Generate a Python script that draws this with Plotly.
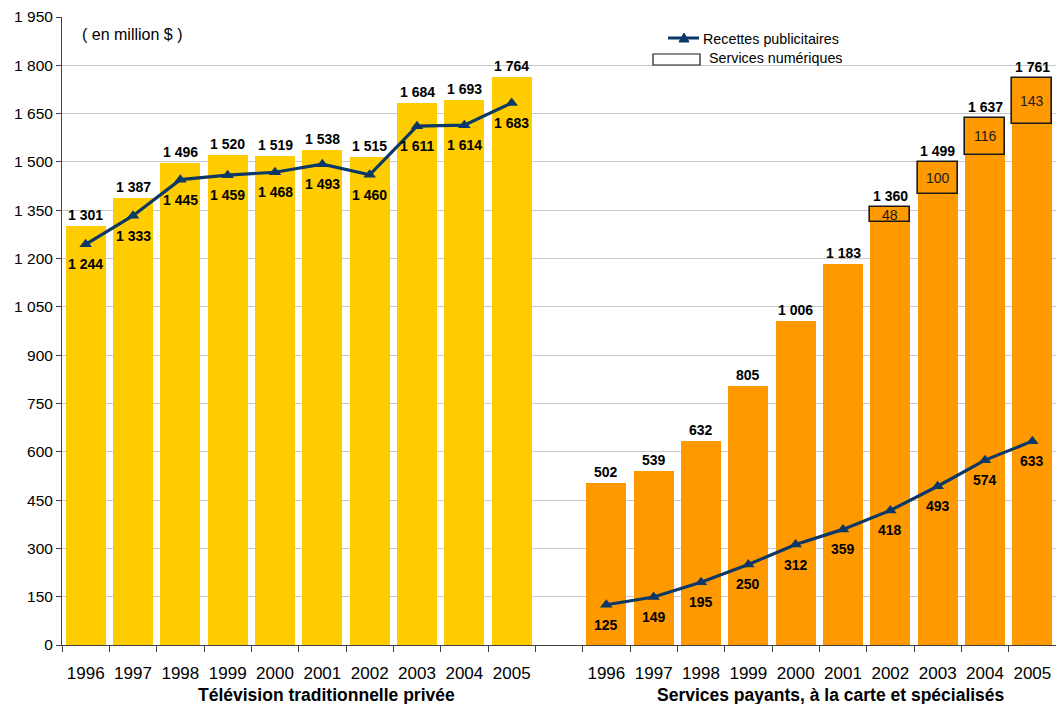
import plotly.graph_objects as go

# --- data -------------------------------------------------------------
years = ["1996", "1997", "1998", "1999", "2000", "2001", "2002", "2003", "2004", "2005"]

# Télévision traditionnelle privée
tv_total = [1301, 1387, 1496, 1520, 1519, 1538, 1515, 1684, 1693, 1764]
tv_ads = [1244, 1333, 1445, 1459, 1468, 1493, 1460, 1611, 1614, 1683]

# Services payants, à la carte et spécialisés
pay_total = [502, 539, 632, 805, 1006, 1183, 1360, 1499, 1637, 1761]
pay_ads = [125, 149, 195, 250, 312, 359, 418, 493, 574, 633]
pay_digital = [0, 0, 0, 0, 0, 0, 48, 100, 116, 143]

group_titles = ["Télévision traditionnelle privée",
                "Services payants, à la carte et spécialisés"]

# --- layout constants ---------------------------------------------------
W, H = 1056, 704
L, R, T, B = 62, 0, 17, 59
FONT = "Liberation Sans, Arial, sans-serif"
YELLOW = "#FFCC00"
ORANGE = "#FF9900"
NAVY = "#0B3866"
GRID = "#C8C8C8"

x_tv = list(range(0, 10))
x_pay = list(range(11, 21))
BAR_W = 0.845


def fmt(v):
    return f"{v:,}".replace(",", " ")


def px(x):
    return (x - L) / (W - L - R)


def py(y):
    return (H - B - y) / (H - B - T)


fig = go.Figure()

fig.add_trace(go.Bar(x=x_tv, y=tv_total, width=BAR_W, marker=dict(color=YELLOW, line_width=0),
                     showlegend=False, hoverinfo="skip"))

pay_base = [t - d for t, d in zip(pay_total, pay_digital)]
fig.add_trace(go.Bar(x=x_pay, y=pay_base, width=BAR_W, marker=dict(color=ORANGE, line_width=0),
                     showlegend=False, hoverinfo="skip"))

dig_idx = [i for i, d in enumerate(pay_digital) if d > 0]
fig.add_trace(go.Bar(x=[x_pay[i] for i in dig_idx], y=[pay_digital[i] for i in dig_idx],
                     base=[pay_base[i] for i in dig_idx], width=BAR_W,
                     marker=dict(color=ORANGE, line=dict(color="#1A1A1A", width=1.6)),
                     showlegend=False, hoverinfo="skip"))

for xs, ys in ((x_tv, tv_ads), (x_pay, pay_ads)):
    fig.add_trace(go.Scatter(x=xs, y=ys, mode="lines+markers",
                             line=dict(color=NAVY, width=3.2),
                             marker=dict(symbol="triangle-up", size=11, color=NAVY),
                             showlegend=False, hoverinfo="skip"))

ann = []
label_font = dict(family=FONT, size=14, color="black")

# totals above the bars
for xs, tots in ((x_tv, tv_total), (x_pay, pay_total)):
    for x, v in zip(xs, tots):
        ann.append(dict(x=x, y=v, xref="x", yref="y", text=f"<b>{fmt(v)}</b>", showarrow=False,
                        yanchor="middle", yshift=11, font=label_font))

# advertising revenue under the line markers
for xs, vals in ((x_tv, tv_ads), (x_pay, pay_ads)):
    for x, v in zip(xs, vals):
        ann.append(dict(x=x, y=v, xref="x", yref="y", text=f"<b>{fmt(v)}</b>", showarrow=False,
                        yanchor="middle", yshift=-20, font=label_font))

# digital services segment values
for i in dig_idx:
    ann.append(dict(x=x_pay[i], y=pay_base[i] + pay_digital[i] / 2, xref="x", yref="y",
                    text=str(pay_digital[i]), showarrow=False, yanchor="middle",
                    font=dict(family=FONT, size=14, color="#1A1A1A")))

# unit note
ann.append(dict(x=px(80), y=py(34), xref="paper", yref="paper", text="( en million $ )",
                showarrow=False, xanchor="left", yanchor="middle",
                font=dict(family=FONT, size=16, color="black")))

# group titles
for cx, title in ((326, group_titles[0]), (831, group_titles[1])):
    ann.append(dict(x=px(cx), y=py(695), xref="paper", yref="paper", text=f"<b>{title}</b>",
                    showarrow=False, xanchor="center", yanchor="middle",
                    font=dict(family=FONT, size=17.5, color="black")))

# legend texts
ann.append(dict(x=px(701), y=py(39), xref="paper", yref="paper", text="Recettes publicitaires",
                showarrow=False, xanchor="left", yanchor="middle",
                font=dict(family=FONT, size=14.3, color="black")))
ann.append(dict(x=px(707), y=py(58), xref="paper", yref="paper", text="Services numériques",
                showarrow=False, xanchor="left", yanchor="middle",
                font=dict(family=FONT, size=14.3, color="black")))

shapes = [
    # legend background over the top gridline
    dict(type="rect", xref="paper", yref="paper", x0=px(607), x1=px(900), y0=py(22), y1=py(12),
         fillcolor="white", line_width=0, layer="above"),
    # legend: line sample
    dict(type="line", xref="paper", yref="paper", x0=px(668), x1=px(699), y0=py(38), y1=py(38),
         line=dict(color=NAVY, width=3), layer="above"),
    dict(type="path", xref="paper", yref="paper",
         path=f"M{px(679)},{py(42)} L{px(689)},{py(42)} L{px(684)},{py(33)} Z",
         fillcolor=NAVY, line=dict(color=NAVY, width=1), layer="above"),
    # legend: box sample
    dict(type="rect", xref="paper", yref="paper", x0=px(653), x1=px(700), y0=py(65), y1=py(54),
         fillcolor="white", line=dict(color="#1A1A1A", width=1.2), layer="above"),
]

fig.update_layout(
    width=W, height=H, autosize=False,
    margin=dict(l=L, r=R, t=T, b=B, pad=0),
    paper_bgcolor="white", plot_bgcolor="white",
    barmode="overlay", bargap=0,
    separators=". ",
    font=dict(family=FONT, size=15, color="black"),
    annotations=ann, shapes=shapes,
    xaxis=dict(range=[-0.5, 20.5], tickvals=x_tv + x_pay, ticktext=years + years,
               ticks="", ticklabelstandoff=13, tickfont=dict(family=FONT, size=17, color="black"),
               showline=True, linecolor="#404040", linewidth=1, showgrid=False, zeroline=False,
               minor=dict(tickvals=[k + 0.5 for k in range(-1, 21)], ticks="outside", ticklen=6,
                          tickcolor="#404040", showgrid=False),
               fixedrange=True),
    yaxis=dict(range=[0, 1950], dtick=150, tick0=0, tickformat=",d",
               showgrid=True, gridcolor=GRID, gridwidth=1, zeroline=False,
               showline=True, linecolor="#404040", linewidth=1,
               ticks="outside", ticklen=5, tickcolor="#404040",
               tickfont=dict(family=FONT, size=15.5, color="black"), fixedrange=True),
)

fig.write_html("out.html")
